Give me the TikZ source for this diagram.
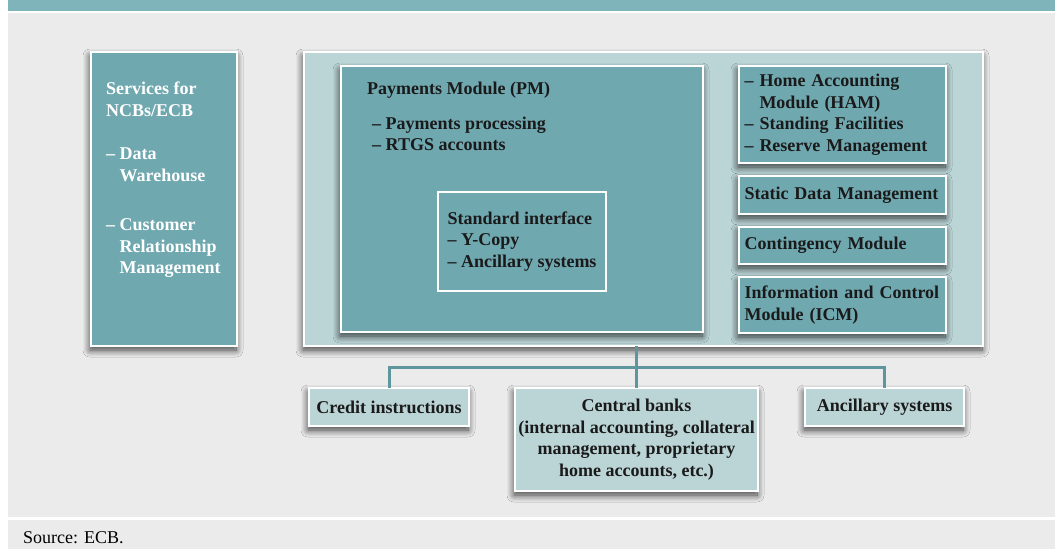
\documentclass[tikz,border=0pt]{standalone}
\usepackage{fontspec}
\setmainfont{Liberation Serif}
\usetikzlibrary{shadows.blur}

\definecolor{bandteal}{HTML}{7FB5BA}
\definecolor{boxteal}{HTML}{70A8B0}
\definecolor{paleteal}{HTML}{BBD4D6}
\definecolor{bggray}{HTML}{EBEBEB}
\definecolor{linkteal}{HTML}{5E969E}
\definecolor{inktext}{HTML}{1A1A1A}

\newcommand\boxfont{\fontsize{18}{21.5}\selectfont\bfseries}

\tikzset{
  plainbox/.style={draw=white, line width=1.5pt, fill=boxteal, inner sep=0pt,
    outer sep=0pt, anchor=north west, font=\boxfont, text=inktext},
  darkbox/.style={plainbox,
    blur shadow={shadow blur steps=10, shadow blur radius=7pt,
      shadow xshift=-1pt, shadow yshift=-4pt, shadow opacity=75}},
  lightbox/.style={darkbox, fill=paleteal},
  listbox/.style={darkbox, text width=196pt, inner xsep=5.5pt, align=left},
  boxtext/.style={inner sep=0pt, anchor=north west, align=left, font=\boxfont},
  link/.style={draw=linkteal, line width=3pt}
}

\begin{document}
\begin{tikzpicture}[x=1pt,y=-1pt]
  \useasboundingbox (0,0) rectangle (1055,549);

  % page background
  \fill[white] (0,0) rectangle (1055,549);
  \fill[bandteal] (8,0) rectangle (1055,11);
  \fill[bggray] (8,13) rectangle (1055,517);
  \fill[bggray] (8,520) rectangle (1055,549);

  % services for the central banks
  \node[darkbox, minimum width=146pt, minimum height=294pt] (ncb) at (91,52) {};
  \node[boxtext, text=white] (ncbtext) at (106,82)
    {Services for\\NCBs/ECB\\[22pt]
     – Data\\\hphantom{– }Warehouse\\[28pt]
     – Customer\\\hphantom{– }Relationship\\\hphantom{– }Management};

  % single shared platform
  \node[lightbox, minimum width=679pt, minimum height=294pt] (ssp) at (304,52) {};

  \node[darkbox, minimum width=362pt, minimum height=266pt] (pm) at (341,66) {};
  \node[boxtext, text=inktext] (pmtext) at (367,82)
    {Payments Module (PM)\\[13pt]
     \hspace*{5pt}– Payments processing\\
     \hspace*{5pt}– RTGS accounts};
  \node[plainbox, minimum width=168pt, minimum height=99pt, align=left] (sif) at (438,192)
    {Standard interface\\– Y-Copy\\– Ancillary systems};

  % modules on the right
  \node[listbox, minimum height=97pt] (ham) at (739,66)
    {– Home Accounting\\\hphantom{– }Module (HAM)\\– Standing Facilities\\– Reserve Management};
  \node[listbox, minimum height=38pt] (sdm) at (739,176) {Static Data Management};
  \node[listbox, minimum height=37pt] (cm) at (739,227) {Contingency Module};
  \node[listbox, minimum height=56pt] (icm) at (739,277)
    {Information and Control\\Module (ICM)};

  % participants below
  \node[lightbox, minimum width=160pt, minimum height=38pt] (credit) at (309,388)
    {Credit instructions};
  \node[lightbox, minimum width=243pt, minimum height=103pt, align=center] (cb) at (515,388)
    {Central banks\\(internal accounting, collateral\\management, proprietary\\home accounts, etc.)};
  \node[lightbox, minimum width=159pt, minimum height=38pt] (anc) at (805,388)
    {Ancillary systems};

  \coordinate (bus) at (637,367);
  \draw[link] (cb.north |- ssp.south) -- (cb.north);
  \draw[link] (credit.north) -- (credit.north |- bus) -- (anc.north |- bus) -- (anc.north);

  \node[inner sep=0pt, anchor=base west, font=\fontsize{18}{21}\selectfont] (src) at (23,543)
    {Source: ECB.};
\end{tikzpicture}
\end{document}
